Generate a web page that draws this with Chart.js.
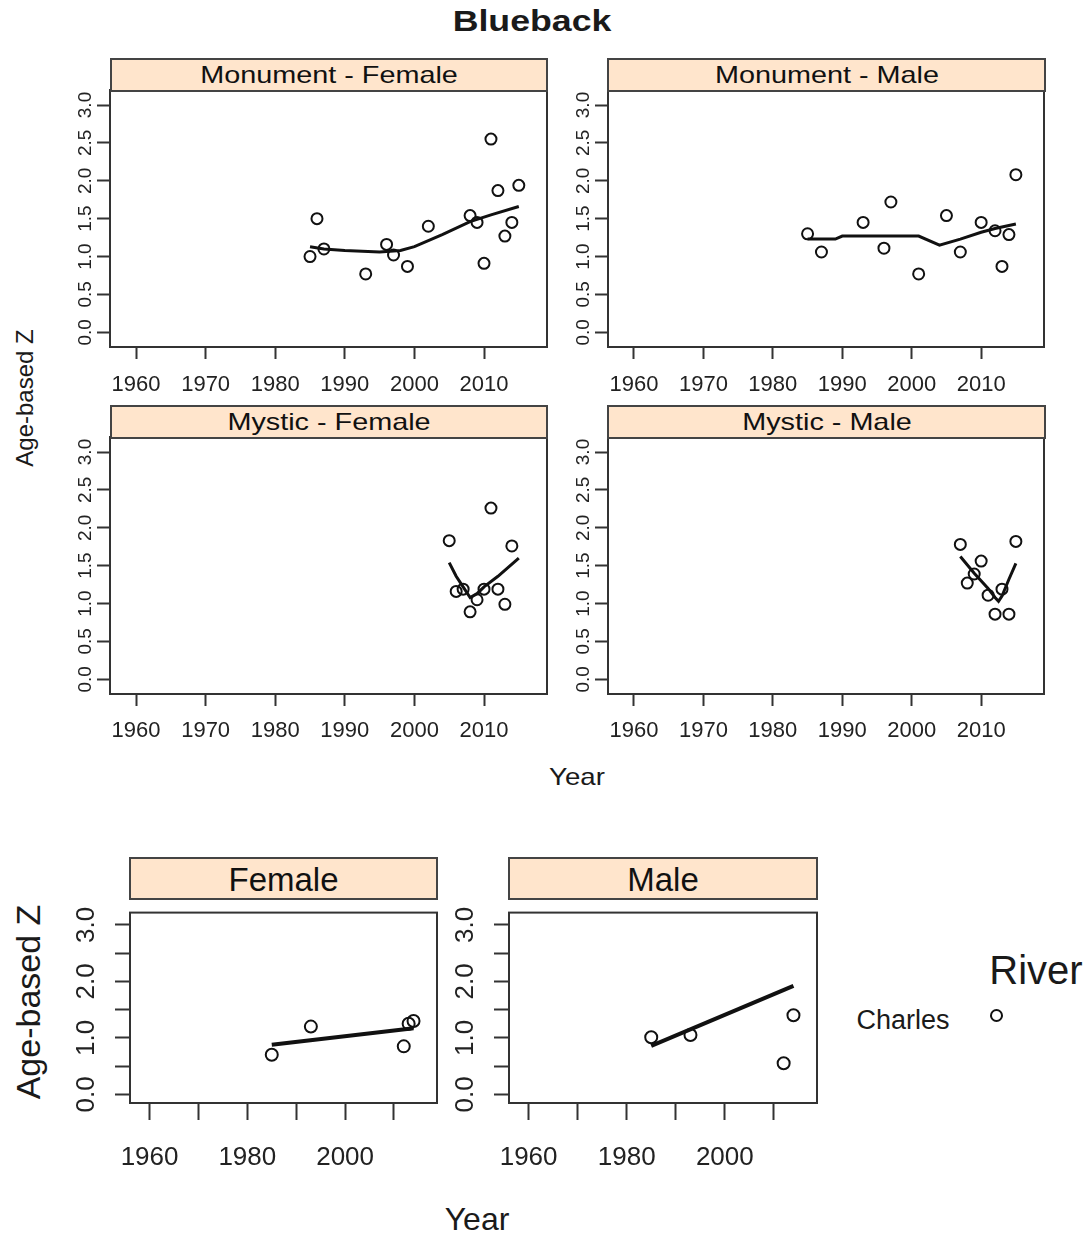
<!DOCTYPE html>
<html><head><meta charset="utf-8">
<script src="https://cdn.jsdelivr.net/npm/chart.js@4.4.1/dist/chart.umd.min.js"></script>
<style>
body{margin:0;background:#fff;width:1092px;height:1239px;position:relative;overflow:hidden;font-family:"Liberation Sans",Arial,sans-serif;}
canvas{position:absolute;}
.t{position:absolute;white-space:nowrap;color:#1a1a1a;line-height:1;}
.strip{position:absolute;background:#ffe5cc;border:2px solid #444;box-sizing:border-box;overflow:hidden;}
.strip span{position:absolute;left:50%;top:50%;white-space:nowrap;color:#111;line-height:1;}
</style></head><body>
<script>
// ---------- data ----------
const monFemYears = [1985,1986,1987,1993,1996,1997,1999,2002,2008,2009,2010,2011,2012,2013,2014,2015];
const monFemZ     = [1.00,1.50,1.10,0.77,1.16,1.02,0.87,1.40,1.54,1.45,0.91,2.55,1.87,1.27,1.45,1.94];
const monFemFitYears = [1985,1987,1990,1995,1998,2000,2004,2008,2011,2015];
const monFemFitZ     = [1.13,1.10,1.08,1.06,1.08,1.13,1.29,1.46,1.55,1.66];

const monMaleYears = [1985,1987,1993,1996,1997,2001,2005,2007,2010,2012,2013,2014,2015];
const monMaleZ     = [1.30,1.06,1.45,1.11,1.72,0.77,1.54,1.06,1.45,1.34,0.87,1.29,2.08];
const monMaleFitYears = [1985,1989,1990,2001,2004,2007,2010,2012,2015];
const monMaleFitZ     = [1.23,1.23,1.27,1.27,1.15,1.23,1.32,1.37,1.43];

const mysFemYears = [2005,2006,2007,2008,2009,2010,2011,2012,2013,2014];
const mysFemZ     = [1.83,1.16,1.19,0.89,1.05,1.19,2.26,1.19,0.99,1.76];
const mysFemFitYears = [2005,2006,2007,2008,2009,2010,2012,2015];
const mysFemFitZ     = [1.54,1.36,1.22,1.08,1.13,1.22,1.36,1.60];

const mysMaleYears = [2007,2008,2009,2010,2011,2012,2013,2014,2015];
const mysMaleZ     = [1.78,1.27,1.39,1.56,1.11,0.86,1.19,0.86,1.82];
const mysMaleFitYears = [2007,2009,2011,2012,2012.5,2013,2014,2015];
const mysMaleFitZ     = [1.62,1.40,1.20,1.08,1.03,1.10,1.32,1.53];

const chaFemYears = [1985,1993,2012,2013,2014];
const chaFemZ     = [0.70,1.20,0.85,1.25,1.30];
const chaFemFitYears = [1985,2014];
const chaFemFitZ     = [0.88,1.17];

const chaMaleYears = [1985,1993,2012,2014];
const chaMaleZ     = [1.01,1.05,0.55,1.40];
const chaMaleFitYears = [1985,2014];
const chaMaleFitZ     = [0.86,1.92];

const xTickValues = [1960,1970,1980,1990,2000,2010];
const xLabelsTop = [1960,1970,1980,1990,2000,2010];
const xLabelsBottom = [1960,1980,2000];
const yTickValues = [0,0.5,1,1.5,2,2.5,3];
const yLabelsTop = [0,0.5,1,1.5,2,2.5,3];
const yLabelsBottom = [0,1,2,3];

const stripTitles = ["Monument - Female","Monument - Male","Mystic - Female","Mystic - Male","Female","Male"];

// ---------- helpers ----------
const FONT = '"Liberation Sans", Arial, sans-serif';
const framePlugin = {
  id:'frame',
  afterDraw(chart){
    const {ctx, chartArea:a} = chart;
    ctx.save(); ctx.strokeStyle='#333'; ctx.lineWidth=2;
    ctx.strokeRect(a.left, a.top, a.right-a.left, a.bottom-a.top);
    ctx.restore();
  }
};
function pts(xs, ys){ return xs.map((x,i)=>({x:x, y:ys[i]})); }

function panel(p){
  const padTop=12, padRight=10;
  const cv = document.createElement('canvas');
  const w = (p.R-p.L)+p.yW+padRight, h=(p.B-p.T)+padTop+p.xH;
  cv.width=w; cv.height=h;
  cv.style.left=(p.L-p.yW)+'px'; cv.style.top=(p.T-padTop)+'px';
  cv.style.width=w+'px'; cv.style.height=h+'px';
  document.body.appendChild(cv);
  new Chart(cv, {
    type:'scatter',
    data:{datasets:[
      {data:pts(p.fx,p.fy), showLine:true, borderColor:'#111', borderWidth:p.lw, pointRadius:0, tension:0, fill:false},
      {data:pts(p.px,p.py), showLine:false, pointStyle:'circle', pointRadius:p.pr, borderColor:'#111', backgroundColor:'rgba(0,0,0,0)', borderWidth:p.pb}
    ]},
    options:{
      responsive:false, animation:false, devicePixelRatio:1,
      layout:{padding:{left:0, top:padTop, right:padRight, bottom:0}},
      plugins:{legend:{display:false}, tooltip:{enabled:false}},
      scales:{
        x:{type:'linear', position:'bottom', min:p.xmin, max:p.xmax,
           afterBuildTicks:s=>{s.ticks = xTickValues.map(v=>({value:v}));},
           afterFit:s=>{s.height=p.xH;},
           grid:{drawOnChartArea:false, drawTicks:true, tickLength:p.tlX, tickWidth:2, tickColor:'#333'},
           border:{display:false},
           ticks:{padding:p.padX, autoSkip:false, maxRotation:0, minRotation:0, color:'#222',
                  font:{size:p.fX, family:FONT},
                  callback:v=> p.xl.includes(v) ? String(v) : ''}
        },
        y:{type:'linear', position:'left', min:p.ymin, max:p.ymax,
           afterBuildTicks:s=>{s.ticks = yTickValues.map(v=>({value:v}));},
           afterFit:s=>{s.width=p.yW;},
           grid:{drawOnChartArea:false, drawTicks:true, tickLength:p.tlY, tickWidth:2, tickColor:'#333'},
           border:{display:false},
           ticks:{padding:p.padY, autoSkip:false, crossAlign:'center', minRotation:90, maxRotation:90, color:'#222',
                  font:{size:p.fY, family:FONT},
                  callback:v=> p.yl.includes(v) ? v.toFixed(1) : ''}
        }
      }
    },
    plugins:[framePlugin]
  });
}
function strip(L,T,W,H,text,size,sx){
  const d=document.createElement('div'); d.className='strip';
  d.style.cssText=`left:${L}px;top:${T}px;width:${W}px;height:${H}px;`;
  const s=document.createElement('span'); s.textContent=text;
  s.style.fontSize=size+'px'; s.style.transform=`translate(-50%,-50%) scaleX(${sx})`;
  d.appendChild(s); document.body.appendChild(d);
}
function text(str,cx,cy,size,opts={}){
  const d=document.createElement('div'); d.className='t'; d.textContent=str;
  d.style.left=cx+'px'; d.style.top=cy+'px'; d.style.fontSize=size+'px';
  if(opts.bold) d.style.fontWeight='bold';
  d.style.transform=`translate(-50%,-50%) ${opts.rot?'rotate(-90deg)':''} scaleX(${opts.sx||1})`;
  document.body.appendChild(d);
}

// ---------- top panels ----------
const topCommon = {xmin:1956.26, xmax:2019.05, ymin:-0.194, ymax:3.198, yW:60, xH:60,
  tlX:12, padX:13, fX:22, tlY:13, padY:-2, fY:19, xl:xLabelsTop, yl:yLabelsTop, pr:5.5, pb:2, lw:3};
panel({...topCommon, L:110, T:90, R:547, B:347, px:monFemYears, py:monFemZ, fx:monFemFitYears, fy:monFemFitZ});
panel({...topCommon, L:608, T:90, R:1044, B:347, px:monMaleYears, py:monMaleZ, fx:monMaleFitYears, fy:monMaleFitZ});
panel({...topCommon, L:110, T:437, R:547, B:694, padX:12, px:mysFemYears, py:mysFemZ, fx:mysFemFitYears, fy:mysFemFitZ});
panel({...topCommon, L:608, T:437, R:1044, B:694, padX:12, px:mysMaleYears, py:mysMaleZ, fx:mysMaleFitYears, fy:mysMaleFitZ});

strip(110,58,438,34,stripTitles[0],24,1.2);
strip(607,58,439,34,stripTitles[1],24,1.2);
strip(110,405,438,34,stripTitles[2],24,1.2);
strip(607,405,439,34,stripTitles[3],24,1.2);

// ---------- bottom panels ----------
const botCommon = {xmin:1956.0, xmax:2018.8, ymin:-0.153, ymax:3.218, yW:70, xH:80,
  tlX:17, padX:22, fX:26, tlY:15, padY:10, fY:26, xl:xLabelsBottom, yl:yLabelsBottom, pr:6, pb:2, lw:4};
panel({...botCommon, L:130, T:899, R:437, B:1103, px:chaFemYears, py:chaFemZ, fx:chaFemFitYears, fy:chaFemFitZ});
panel({...botCommon, L:509, T:899, R:817, B:1103, px:chaMaleYears, py:chaMaleZ, fx:chaMaleFitYears, fy:chaMaleFitZ});
strip(129,857,309,43,stripTitles[4],33,1);
strip(508,857,310,43,stripTitles[5],33,1);

// ---------- titles & labels ----------
text("Blueback",532,21,30,{bold:true,sx:1.19});
text("Age-based Z",25,398,24,{rot:true});
text("Year",577,777,24,{sx:1.15});
text("Age-based Z",28,1002,34,{rot:true});
text("Year",477,1219,32);
text("River",1036,970,40);
text("Charles",903,1020,27);
const lc=document.createElement('div');
lc.style.cssText='position:absolute;left:990px;top:1009px;width:9px;height:9px;border:2px solid #111;border-radius:50%;';
document.body.appendChild(lc);
</script>
</body></html>
